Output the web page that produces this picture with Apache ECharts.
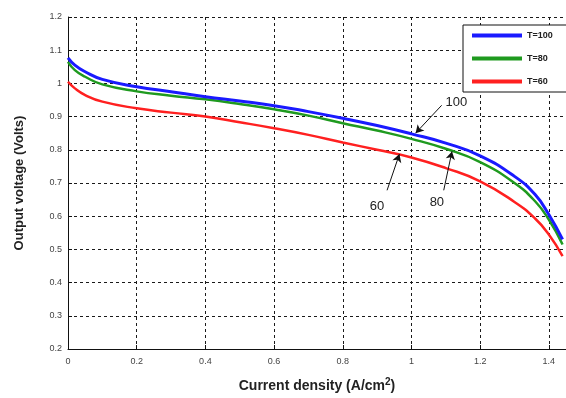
<!DOCTYPE html>
<html>
<head>
<meta charset="utf-8">
<script src="https://cdn.jsdelivr.net/npm/echarts@6/dist/echarts.min.js"></script>
<style>html,body{margin:0;padding:0;background:#fff;}#c{width:566px;height:398px;}</style>
</head>
<body>
<div id="c"></div>
<script>
const currentDensity = [0, 0.02, 0.05, 0.1, 0.2, 0.3, 0.4, 0.5, 0.6, 0.7, 0.8, 0.9, 1.0, 1.1, 1.2, 1.3, 1.36, 1.4, 1.44];
const voltT100 = [1.077, 1.055, 1.035, 1.012, 0.990, 0.975, 0.960, 0.947, 0.933, 0.915, 0.895, 0.873, 0.848, 0.820, 0.782, 0.720, 0.665, 0.605, 0.530];
const voltT80  = [1.065, 1.040, 1.020, 0.997, 0.976, 0.963, 0.952, 0.938, 0.922, 0.903, 0.880, 0.858, 0.833, 0.803, 0.763, 0.700, 0.645, 0.590, 0.515];
const voltT60  = [1.005, 0.985, 0.965, 0.945, 0.925, 0.912, 0.900, 0.883, 0.865, 0.845, 0.822, 0.800, 0.777, 0.745, 0.705, 0.643, 0.593, 0.545, 0.480];
const seriesNames = ['T=100', 'T=80', 'T=60'];
const annText = ['100', '80', '60'];
const annTextPos = [[1.131, 0.943], [1.074, 0.642], [0.900, 0.630]];
const annArrowFrom = [[1.088, 0.934], [1.094, 0.678], [0.929, 0.678]];
const annArrowTo = [[1.012, 0.850], [1.118, 0.795], [0.965, 0.787]];

const colors = ['#1a1aff', '#1f9a1f', '#ff2020'];
const allVals = [voltT100, voltT80, voltT60];

const chart = echarts.init(document.getElementById('c'), null, {renderer: 'canvas'});
const gridStyle = {color: '#1a1a1a', width: 1, type: [3, 3]};
const series = allVals.map((vals, i) => ({
  name: seriesNames[i],
  type: 'line',
  smooth: true,
  showSymbol: false,
  symbol: 'none',
  data: currentDensity.map((x, j) => [x, vals[j]]),
  lineStyle: {color: colors[i], width: i === 0 ? 3 : 2.5},
  itemStyle: {color: colors[i]},
  z: 3 + (2 - i),
  markLine: {
    silent: true,
    symbol: ['none', 'arrow'],
    symbolSize: [7, 8],
    label: {show: false},
    lineStyle: {color: '#111', width: 1, type: 'solid'},
    data: [[{coord: annArrowFrom[i]}, {coord: annArrowTo[i]}]]
  },
  markPoint: {
    silent: true,
    symbol: 'circle',
    symbolSize: 0,
    label: {show: true, position: 'inside', color: '#222', fontSize: 13, fontFamily: 'Liberation Sans, Arial, sans-serif', formatter: annText[i]},
    data: [{coord: annTextPos[i]}]
  }
}));

chart.setOption({
  animation: false,
  backgroundColor: '#fff',
  textStyle: {fontFamily: 'Liberation Sans, Arial, sans-serif'},
  grid: {left: 68, top: 17, width: 502, height: 335, containLabel: false},
  legend: {
    orient: 'vertical',
    left: 463,
    top: 25,
    data: seriesNames,
    icon: 'rect',
    itemWidth: 50,
    itemHeight: 4,
    itemGap: 14,
    padding: [6, 70, 6, 9],
    backgroundColor: '#fff',
    borderColor: '#111',
    borderWidth: 1,
    borderRadius: 0,
    textStyle: {fontSize: 9, color: '#222', fontWeight: 'bold'}
  },
  xAxis: {
    type: 'value',
    min: 0,
    max: 1.45,
    interval: 0.2,
    name: 'Current density (A/cm{sup|2})',
    nameLocation: 'middle',
    nameGap: 28,
    nameTextStyle: {
      fontSize: 14, fontWeight: 'bold', color: '#222',
      rich: {sup: {fontSize: 10, fontWeight: 'bold', color: '#222', verticalAlign: 'top', padding: [0, 0, 8, 0]}}
    },
    axisLine: {show: true, lineStyle: {color: '#111', width: 1}},
    axisTick: {show: true, inside: true, length: 4, lineStyle: {color: '#111'}},
    axisLabel: {fontSize: 9, color: '#444', margin: 8, showMaxLabel: false, formatter: v => String(+v.toFixed(1))},
    splitLine: {show: true, lineStyle: gridStyle}
  },
  yAxis: {
    type: 'value',
    min: 0.2,
    max: 1.2,
    interval: 0.1,
    name: 'Output voltage (Volts)',
    nameLocation: 'middle',
    nameGap: 42,
    nameTextStyle: {fontSize: 13, fontWeight: 'bold', color: '#222'},
    axisLine: {show: true, lineStyle: {color: '#111', width: 1}},
    axisTick: {show: true, inside: true, length: 4, lineStyle: {color: '#111'}},
    axisLabel: {fontSize: 9, color: '#444', margin: 6, formatter: v => String(+v.toFixed(1))},
    splitLine: {show: true, lineStyle: gridStyle}
  },
  series: series
});
</script>
</body>
</html>
